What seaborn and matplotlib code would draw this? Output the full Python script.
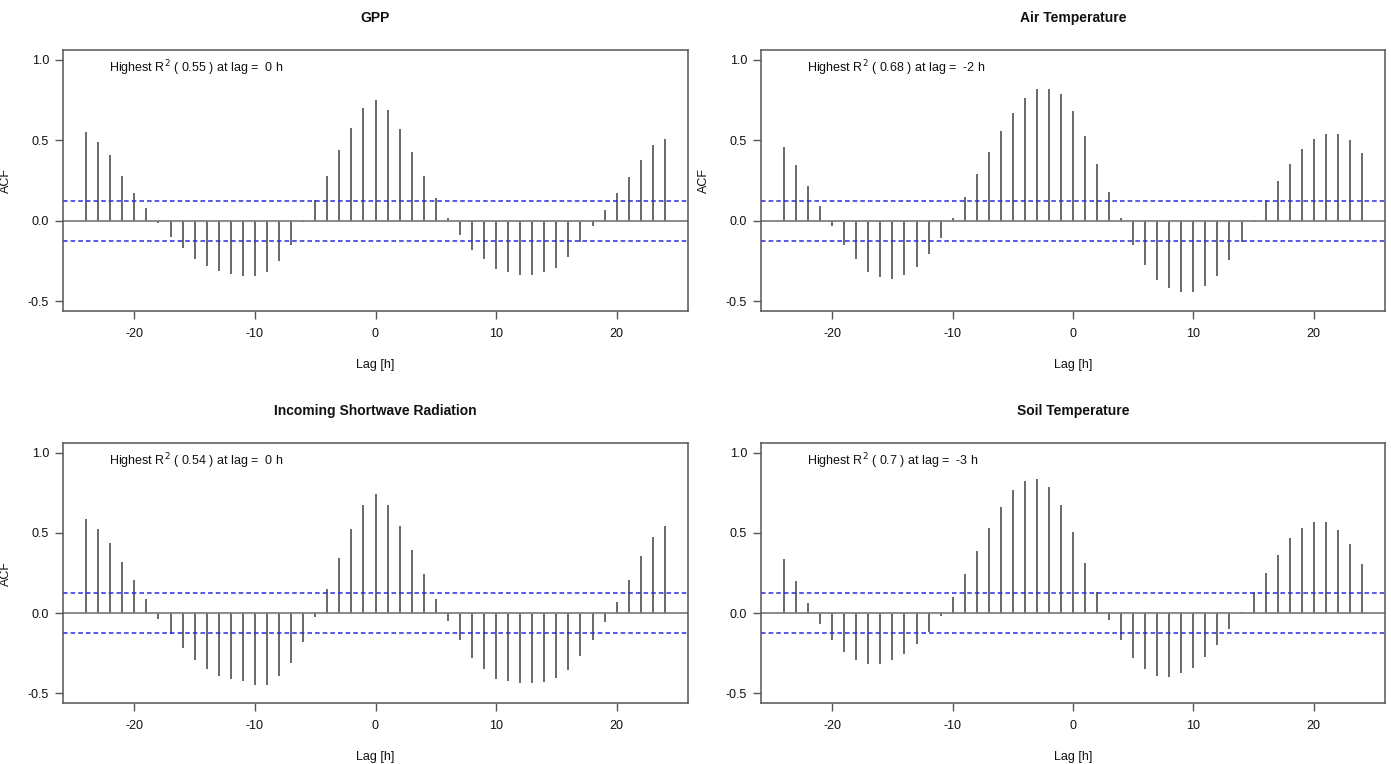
import numpy as np
import pandas as pd
import matplotlib
matplotlib.use("Agg")
import matplotlib.pyplot as plt
import seaborn as sns

lags = list(range(-24, 25))

gpp = [0.55, 0.49, 0.41, 0.28, 0.175, 0.08, -0.015, -0.10, -0.17, -0.235, -0.28, -0.31, -0.33,
       -0.34, -0.345, -0.32, -0.25, -0.15, -0.01, 0.13, 0.275, 0.44, 0.575, 0.70, 0.75,
       0.69, 0.57, 0.425, 0.28, 0.14, 0.02, -0.09, -0.18, -0.24, -0.30, -0.32, -0.335,
       -0.335, -0.32, -0.29, -0.225, -0.13, -0.03, 0.07, 0.17, 0.27, 0.375, 0.47, 0.51]
air_temp = [0.455, 0.345, 0.215, 0.09, -0.035, -0.15, -0.24, -0.315, -0.35, -0.36, -0.335, -0.285,
            -0.205, -0.105, 0.015, 0.15, 0.29, 0.425, 0.555, 0.67, 0.76, 0.82, 0.82, 0.785, 0.68,
            0.525, 0.35, 0.18, 0.015, -0.15, -0.275, -0.365, -0.42, -0.445, -0.445, -0.405, -0.34,
            -0.245, -0.13, -0.01, 0.13, 0.25, 0.355, 0.445, 0.505, 0.54, 0.54, 0.50, 0.42]
sw_rad = [0.585, 0.525, 0.44, 0.32, 0.205, 0.085, -0.035, -0.13, -0.215, -0.295, -0.35, -0.39,
          -0.41, -0.425, -0.45, -0.445, -0.39, -0.31, -0.18, -0.025, 0.15, 0.345, 0.525, 0.675,
          0.745, 0.675, 0.545, 0.395, 0.245, 0.09, -0.05, -0.17, -0.28, -0.35, -0.41, -0.425,
          -0.435, -0.435, -0.43, -0.405, -0.355, -0.27, -0.165, -0.055, 0.07, 0.205, 0.355,
          0.475, 0.54]
soil_temp = [0.34, 0.20, 0.06, -0.065, -0.165, -0.24, -0.29, -0.32, -0.32, -0.295, -0.255, -0.19,
             -0.12, -0.02, 0.10, 0.245, 0.39, 0.53, 0.66, 0.765, 0.825, 0.835, 0.785, 0.675,
             0.505, 0.31, 0.13, -0.04, -0.17, -0.28, -0.35, -0.39, -0.395, -0.375, -0.34,
             -0.275, -0.20, -0.10, 0.005, 0.13, 0.25, 0.365, 0.465, 0.53, 0.57, 0.565, 0.52,
             0.43, 0.305]

titles = ["GPP", "Air Temperature", "Incoming Shortwave Radiation", "Soil Temperature"]
annot_r2 = ["0.55", "0.68", "0.54", "0.7"]
annot_lag = ["0", "-2", "0", "-3"]
show_ylabel = [True, True, True, False]
conf_limit = 0.125

series = [gpp, air_temp, sw_rad, soil_temp]

sns.set_theme(style="white")
plt.rcParams['font.family'] = ['Liberation Sans', 'DejaVu Sans']
plt.rcParams['axes.unicode_minus'] = False

fig = plt.figure(figsize=(13.91, 7.64), dpi=100)
W, H = 1391, 764
boxes = [(63, 50, 688, 311), (761, 50, 1385, 311), (63, 443, 688, 703), (761, 443, 1385, 703)]

frame_col = "#555555"
for i, (x0, y0, x1, y1) in enumerate(boxes):
    ax = fig.add_axes([x0 / W, 1 - y1 / H, (x1 - x0) / W, (y1 - y0) / H])
    df = pd.DataFrame({"lag": lags, "acf": series[i]})
    ax.vlines(df["lag"], 0, df["acf"], color="#404040", linewidth=1.1)
    sns.lineplot(x=[-26, 26], y=[0, 0], ax=ax, color="#777777", linewidth=1.2)
    for s in (1, -1):
        ax.axhline(s * conf_limit, color="#2a2adf", linestyle=(0, (3, 2)), linewidth=1.1)
    ax.set_xlim(-25.92, 25.92)
    ax.set_ylim(-0.56, 1.06)
    ax.set_xticks([-20, -10, 0, 10, 20])
    ax.set_yticks([-0.5, 0.0, 0.5, 1.0])
    ax.set_yticklabels(["-0.5", "0.0", "0.5", "1.0"])
    ax.tick_params(axis="both", direction="out", length=6, width=1, color=frame_col,
                   labelsize=9, labelcolor="#111111", left=True, bottom=True, pad=4)
    ax.tick_params(axis="x", pad=6)
    for sp in ax.spines.values():
        sp.set_color(frame_col)
        sp.set_linewidth(1.1)
    ax.set_title(titles[i], fontsize=10, fontweight="bold", pad=20, color="#111111")
    ax.set_xlabel("Lag [h]", fontsize=9, labelpad=14, color="#111111")
    ax.set_ylabel("ACF" if show_ylabel[i] else "", fontsize=9, color="#111111")
    ax.yaxis.set_label_coords(-51 / (x1 - x0), 0.5)
    ax.text(0.074, 0.93,
            "Highest R$^2$ ( " + annot_r2[i] + " ) at lag =  " + annot_lag[i] + " h",
            transform=ax.transAxes, fontsize=9, va="center", ha="left", color="#111111")

fig.savefig("out.png", dpi=100, facecolor="white")
